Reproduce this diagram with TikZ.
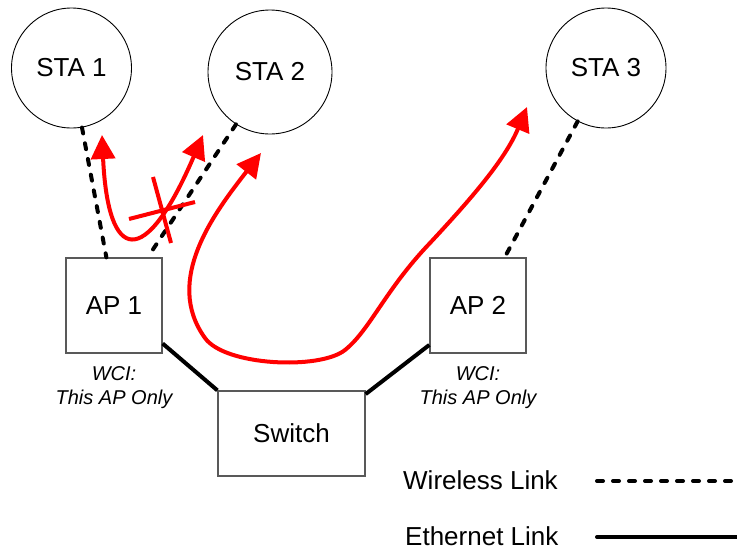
\documentclass[tikz,border=0pt]{standalone}
\usepackage{fontspec}
\setmainfont{Liberation Sans}
\usetikzlibrary{arrows.meta}

\begin{document}
\begin{tikzpicture}[x=1pt, y=-1pt,
      every node/.style = {font=\fontsize{26}{30}\selectfont},
      sta/.style = {shape=circle, draw, line width=0.9pt},
      box/.style = {shape=rectangle, draw=black!65, line width=1.3pt},
      wci/.style = {font=\fontsize{20}{24}\selectfont\itshape, align=center},
      legend/.style = {anchor=west, inner sep=0pt},
      wireless/.style = {line width=4pt, dash pattern=on 6pt off 10pt, line cap=round},
      ethernet/.style = {line width=4pt},
      flow/.style = {red, line width=4pt,
        {Triangle[length=24pt,width=24pt]}-{Triangle[length=24pt,width=24pt]}}]
  \useasboundingbox (0,0) rectangle (737,550);
  % stations
  \node[sta, minimum size=120pt] (sta1) at (71.5,68) {STA 1};
  \node[sta, minimum size=124pt] (sta2) at (270,72) {STA 2};
  \node[sta, minimum size=120pt] (sta3) at (606,68) {STA 3};
  % access points and switch
  \node[box, minimum width=96pt, minimum height=95pt] (ap1) at (114,305.5) {AP 1};
  \node[box, minimum width=96pt, minimum height=95pt] (ap2) at (478,305.5) {AP 2};
  \node[box, minimum width=147pt, minimum height=85pt] (sw) at (291.5,433.5) {Switch};
  \node[wci] (wci1) at (114,388) {WCI:\\This AP Only};
  \node[wci] (wci2) at (478,388) {WCI:\\This AP Only};
  % links
  \draw[wireless] (sta1.-80) -- (ap1.99.6);
  \draw[wireless] (sta2.-123) -- (ap1.55);
  \draw[wireless] (sta3.-118) -- (ap2.61);
  \draw[ethernet] (ap1.-38.7) -- (sw.north west);
  \draw[ethernet] (ap2.-141) -- (sw.28);
  % traffic
  \draw[flow] (102,135) .. controls (108,264) and (145,270) .. (203,135);
  \draw[red, line width=4pt] (129,219) -- (195,202) (153,177) -- (171,243);
  \draw[flow] (261,153) .. controls (215,212) and (163,280) .. (205,338)
    .. controls (225,366) and (320,370) .. (345,350)
    .. controls (370,330) and (385,290) .. (430,243)
    .. controls (470,200) and (505,160) .. (527,107);
  % legend
  \node[legend] (wlabel) at (403,480) {Wireless Link};
  \node[legend] (elabel) at (405,536) {Ethernet Link};
  \coordinate (w1) at (597,481);
  \coordinate (w2) at (737,481);
  \coordinate (e1) at (597,537);
  \coordinate (e2) at (737,537);
  \draw[wireless] (w1) -- (w2);
  \draw[ethernet, line cap=round] (e1) -- (e2);
\end{tikzpicture}
\end{document}
